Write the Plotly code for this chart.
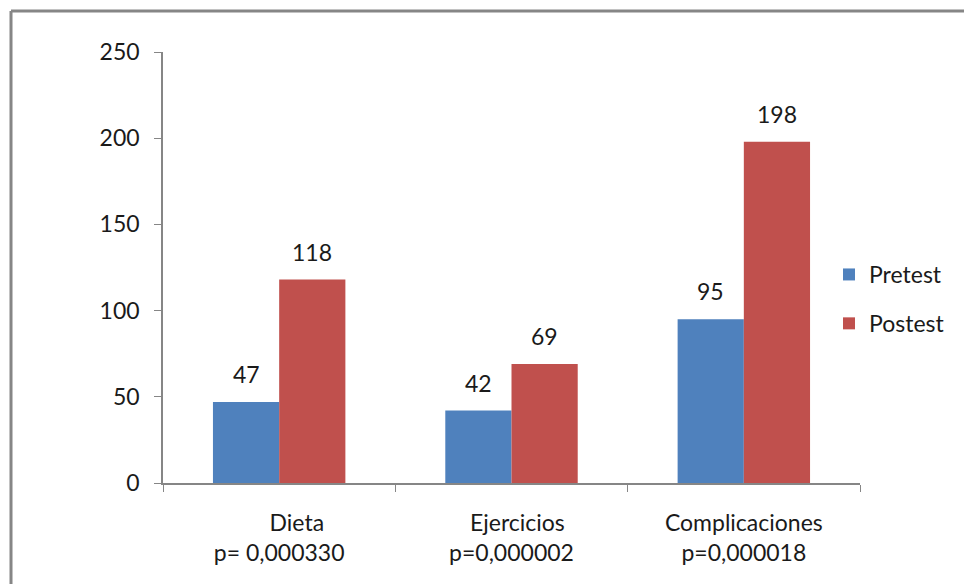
import plotly.graph_objects as go

NB = "\u00a0"
categories = [NB * 6 + "Dieta<br>p= 0,000330", NB * 2 + "Ejercicios<br>p=0,000002", "Complicaciones<br>p=0,000018"]
pretest = [47, 42, 95]
postest = [118, 69, 198]
series_names = ["Pretest", "Postest"]
colors = ["#4F81BD", "#C0504D"]

FONT = "Lato"
FS = 23
TXT = "#1a1a1a"
fig = go.Figure()
for i, (name, vals, col) in enumerate(zip(series_names, [pretest, postest], colors)):
    fig.add_trace(go.Bar(
        x=categories, y=vals, name=name, legendgroup=name,
        marker=dict(color=col, line=dict(width=0)),
    ))
    # value labels above each bar
    for c, v in zip(categories, vals):
        fig.add_annotation(x=c, y=v, text=str(v), showarrow=False,
                           xshift=(-33 if i == 0 else 33), yshift=28,
                           font=dict(family=FONT, size=FS, color=TXT))

L, R, T, B = 163, 104, 52, 101
W, H = 964, 584
pw, ph = W - L - R, H - T - B

fig.update_layout(
    width=W, height=H, barmode="group", bargap=0.43, bargroupgap=0,
    margin=dict(l=L, r=R, t=T, b=B, autoexpand=False),
    paper_bgcolor="white", plot_bgcolor="white",
    font=dict(family=FONT, size=FS, color=TXT),
    showlegend=True,
    legend=dict(x=(829 - L) / pw, y=(H - 299 - B) / ph, xanchor="left", yanchor="middle",
                font=dict(family=FONT, size=FS, color=TXT), tracegroupgap=16,
                traceorder="grouped", itemwidth=30, bgcolor="rgba(0,0,0,0)"),
    xaxis=dict(showline=True, linecolor="#868686", linewidth=1.5, ticks="outside",
               tickson="boundaries", ticklen=7, tickcolor="#868686", showgrid=False,
               ticklabelstandoff=19, automargin=False,
               tickfont=dict(family=FONT, size=FS, color=TXT)),
    yaxis=dict(range=[0, 250], dtick=50, showline=True, linecolor="#868686", linewidth=1.5,
               ticks="outside", ticklen=7, tickcolor="#868686", showgrid=False, zeroline=False,
               ticklabelstandoff=10, automargin=False,
               tickfont=dict(family=FONT, size=FS, color=TXT)),
)

# outer chart border (left and top edges visible in the crop)
x_left = (11 - L) / pw
y_top = 1 + (T - 11) / ph
fig.add_shape(type="line", xref="paper", yref="paper", x0=x_left, x1=(W + 5 - L) / pw,
              y0=y_top, y1=y_top, line=dict(color="#868686", width=3))
fig.add_shape(type="line", xref="paper", yref="paper", x0=x_left, x1=x_left,
              y0=y_top, y1=-(B + 5) / ph, line=dict(color="#868686", width=3))

fig.write_html("out.html")
